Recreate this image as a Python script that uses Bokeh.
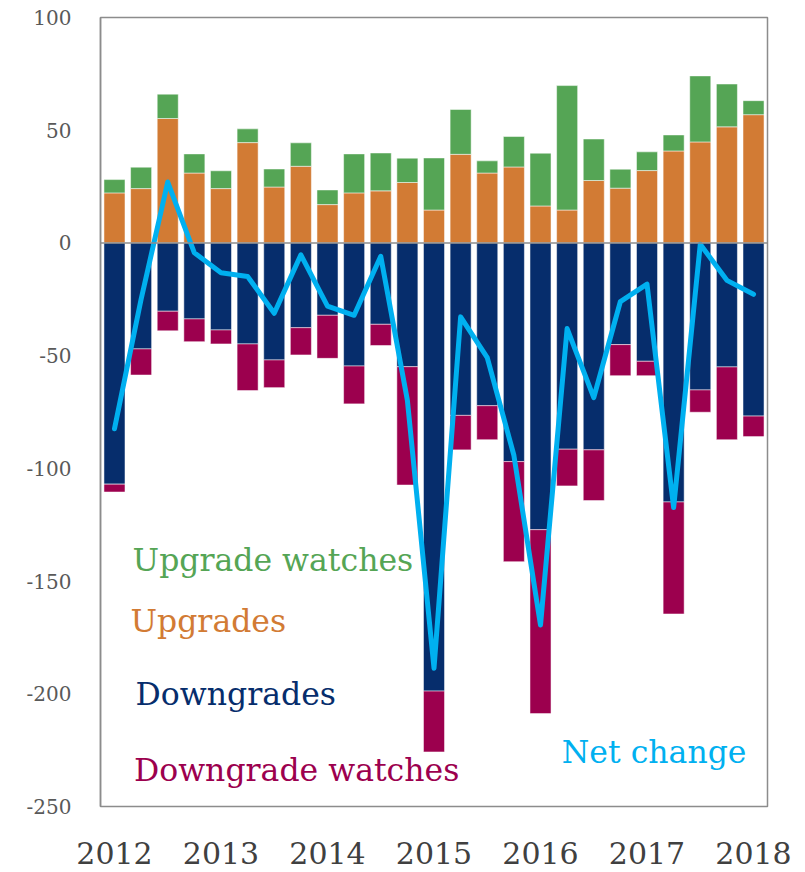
from bokeh.plotting import figure
from bokeh.models import FixedTicker, Span, Label, Range1d
from bokeh.embed import file_html
from bokeh.resources import INLINE

quarters = list(range(25))
year_ticks = [0, 4, 8, 12, 16, 20, 24]
year_labels = ["2012", "2013", "2014", "2015", "2016", "2017", "2018"]
y_ticks = [-250, -200, -150, -100, -50, 0, 50, 100]
y_labels = ["-250", "-200", "-150", "-100", "-50", "0", "50", "100"]

upgrades = [22.2, 24.1, 55.2, 31.0, 24.1, 44.5, 24.8, 34.0, 17.0, 22.2, 23.1, 26.8, 14.6,
            39.3, 31.0, 33.7, 16.4, 14.6, 27.7, 24.3, 32.1, 40.8, 44.8, 51.5, 56.9]
upgrade_watches = [5.9, 9.5, 10.8, 8.5, 7.9, 6.1, 8.0, 10.4, 6.5, 17.3, 16.8, 10.8, 23.1,
                   19.9, 5.4, 13.5, 23.4, 55.2, 18.4, 8.4, 8.3, 7.1, 29.3, 19.0, 6.2]
downgrades = [107.0, 47.0, 30.3, 33.7, 38.6, 44.8, 51.9, 37.6, 32.1, 54.6, 36.1, 54.9, 198.8,
              76.5, 72.2, 97.0, 127.2, 91.5, 91.8, 45.1, 52.5, 114.9, 65.2, 55.0, 76.8]
downgrade_watches = [3.5, 11.6, 8.7, 10.1, 6.2, 20.7, 12.3, 12.1, 19.1, 16.8, 9.4, 52.5, 27.0,
                     15.3, 15.1, 44.4, 81.6, 16.3, 22.5, 13.8, 6.4, 49.7, 9.9, 32.3, 9.1]
net_change = [-82.4, -25.0, 27.0, -4.4, -13.2, -14.9, -31.2, -5.3, -28.0, -32.1, -5.9, -69.8, -188.7,
              -32.8, -50.9, -94.2, -169.5, -38.0, -68.6, -26.0, -18.3, -117.4, -0.6, -16.6, -22.8]

GREEN = "#55A555"
ORANGE = "#D27B34"
NAVY = "#062D6C"
MAROON = "#9C004E"
CYAN = "#00B0F0"
FONT = "DejaVu Serif"

p = figure(frame_width=667, frame_height=789, output_backend="svg", toolbar_location=None,
           x_range=Range1d(-0.525, 24.525), y_range=Range1d(-250, 100),
           min_border_left=100, min_border_right=30, min_border_top=17, min_border_bottom=64)
p.background_fill_color = "white"
p.border_fill_color = "white"
p.outline_line_color = "#8C8C8C"
p.outline_line_width = 1.5
p.xgrid.visible = False
p.ygrid.visible = False

up_top = [u + w for u, w in zip(upgrades, upgrade_watches)]
dn_top = [-d for d in downgrades]
dn_bot = [-d - w for d, w in zip(downgrades, downgrade_watches)]

bw = 0.79
p.vbar(x=quarters, top=upgrades, bottom=0, width=bw, fill_color=ORANGE, line_color="white", line_width=0.5)
p.vbar(x=quarters, top=up_top, bottom=upgrades, width=bw, fill_color=GREEN, line_color="white", line_width=0.5)
p.vbar(x=quarters, top=0, bottom=dn_top, width=bw, fill_color=NAVY, line_color="white", line_width=0.5)
p.vbar(x=quarters, top=dn_top, bottom=dn_bot, width=bw, fill_color=MAROON, line_color="white", line_width=0.5)

p.add_layout(Span(location=0, dimension="width", line_color="#8C8C8C", line_width=1.5))

p.line(quarters, net_change, line_color=CYAN, line_width=5, line_join="round", line_cap="round")

# axes
p.yaxis.ticker = FixedTicker(ticks=y_ticks)
p.yaxis.major_label_overrides = {t: l for t, l in zip(y_ticks, y_labels)}
p.yaxis.major_tick_line_color = None
p.yaxis.minor_tick_line_color = None
p.yaxis.axis_line_color = "#8C8C8C"
p.yaxis.axis_line_width = 1.5
p.yaxis.major_label_text_font = FONT
p.yaxis.major_label_text_font_size = "20px"
p.yaxis.major_label_text_color = "#595959"
p.yaxis.major_label_standoff = 23

p.xaxis.ticker = FixedTicker(ticks=year_ticks)
p.xaxis.major_label_overrides = {t: l for t, l in zip(year_ticks, year_labels)}
p.xaxis.major_tick_line_color = None
p.xaxis.minor_tick_line_color = None
p.xaxis.axis_line_color = None
p.xaxis.major_label_text_font = FONT
p.xaxis.major_label_text_font_size = "30px"
p.xaxis.major_label_text_color = "#404040"
p.xaxis.major_label_standoff = 29

labels = [
    ("Upgrade watches", 0.68, -140.5, GREEN),
    ("Upgrades", 0.60, -167.7, ORANGE),
    ("Downgrades", 0.79, -200.0, NAVY),
    ("Downgrade watches", 0.73, -234.0, MAROON),
    ("Net change", 16.8, -225.8, CYAN),
]
for txt, lx, ly, col in labels:
    p.add_layout(Label(x=lx, y=ly, text=txt, text_color=col, text_font=FONT,
                       text_font_size="31.5px", text_baseline="alphabetic", text_align="left"))

open("out.html", "w").write(file_html(p, INLINE))
